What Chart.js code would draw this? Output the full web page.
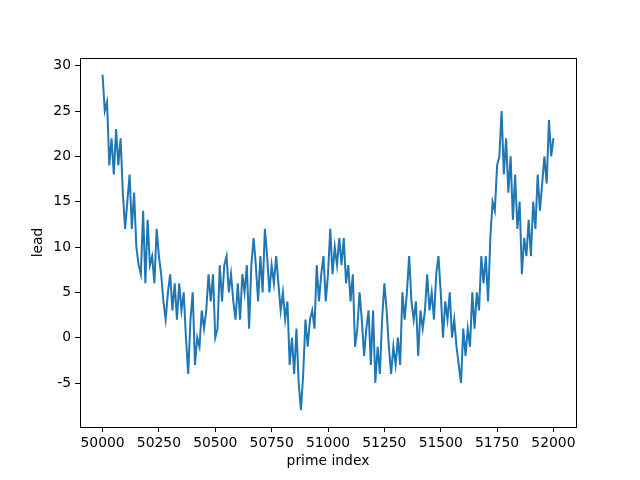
<!DOCTYPE html>
<html>
<head>
<meta charset="utf-8">
<script src="https://cdn.jsdelivr.net/npm/chart.js@4/dist/chart.umd.min.js"></script>
<style>
  html, body { margin: 0; padding: 0; background: #fff; }
  #leadChart { display: block; }
</style>
</head>
<body>
<canvas id="leadChart" width="640" height="480"></canvas>
<script>
// prime index range, sampled every 10 primes
const startIndex = 50000;
const indexStep = 10;

// lead values, one per sample
const leadValues = [
    29, 25, 26, 19, 22, 18, 23, 19, 22, 16, 12, 15, 18, 12, 16, 10, 8, 7, 14, 6, 13, 8, 9, 6, 12,
    9, 7, 4, 2, 5, 7, 3, 6, 2, 6, 3, 5, 0, -4, 2, 5, -3, 0, -1, 3, 1, 3, 7, 4, 7, 0,
    1, 8, 4, 8, 9, 5, 7, 4, 2, 6, 2, 7, 5, 8, 1, 8, 11, 8, 4, 9, 5, 12, 9, 5, 8,
    6, 9, 6, 3, 5, 2, 4, -3, 0, -4, 1, -5, -8, -4, 2, -1, 2, 3, 1, 8, 4, 7, 9, 4, 7, 12,
    7, 10, 8, 11, 8, 11, 6, 8, 4, 7, -1, 1, 5, 2, -2, 1, 3, -3, 3, -5, -1, -4, 2, 6, 3, -1,
    -4, -1, -3, 0, -3, 5, 2, 5, 9, 4, 2, 4, -2, 3, 1, 3, 7, 3, 5, 2, 7, 9, 5, 0, 4, 2,
    5, 0, 2, -1, -3, -5, 1, -2, 1, -1, 5, 1, 5, 3, 9, 6, 9, 4, 11, 15, 14, 19, 20, 25, 18,
    22, 16, 20, 13, 18, 12, 15, 7, 11, 9, 13, 9, 15, 12, 18, 14, 17, 20, 17, 24, 20, 22
];

const xTicks = [50000, 50250, 50500, 50750, 51000, 51250, 51500, 51750, 52000];
const yTicks = [-5, 0, 5, 10, 15, 20, 25, 30];

const points = leadValues.map((v, i) => ({ x: startIndex + i * indexStep, y: v }));

const tickFont = { family: 'DejaVu Sans', size: 13.9 };

// draws the full box around the plot like matplotlib spines
const frameBox = {
    id: 'frameBox',
    afterDraw(chart) {
        const a = chart.chartArea;
        const ctx = chart.ctx;
        ctx.save();
        ctx.strokeStyle = '#000';
        ctx.lineWidth = 1;
        ctx.strokeRect(a.left + 0.5, a.top + 0.5, a.right - a.left, a.bottom - a.top);
        ctx.restore();
    }
};

new Chart(document.getElementById('leadChart').getContext('2d'), {
    type: 'line',
    data: {
        datasets: [{
            data: points,
            borderColor: '#1f77b4',
            borderWidth: 2,
            pointRadius: 0,
            tension: 0,
            fill: false
        }]
    },
    options: {
        responsive: false,
        animation: false,
        layout: { padding: { top: 58, right: 64, left: 26, bottom: 6 } },
        plugins: {
            legend: { display: false },
            tooltip: { enabled: false }
        },
        scales: {
            x: {
                type: 'linear',
                min: 49900,
                max: 52100,
                afterBuildTicks: (scale) => { scale.ticks = xTicks.map(v => ({ value: v })); },
                afterFit: (scale) => { scale.height = 47; },
                grid: { drawOnChartArea: false, tickLength: 5, tickColor: '#000', color: '#000' },
                border: { color: '#000' },
                ticks: { color: '#000', font: tickFont, padding: 3, maxRotation: 0, callback: (v) => String(v) },
                title: { display: true, text: 'prime index', color: '#000', font: tickFont, padding: { top: 2 } }
            },
            y: {
                min: -9.85,
                max: 30.85,
                afterBuildTicks: (scale) => { scale.ticks = yTicks.map(v => ({ value: v })); },
                afterFit: (scale) => { scale.width = 54; },
                grid: { drawOnChartArea: false, tickLength: 5, tickColor: '#000', color: '#000' },
                border: { color: '#000' },
                ticks: { color: '#000', font: tickFont, padding: 4 },
                title: { display: true, text: 'lead', color: '#000', font: tickFont, padding: { bottom: 4 } }
            }
        }
    },
    plugins: [frameBox]
});
</script>
</body>
</html>
